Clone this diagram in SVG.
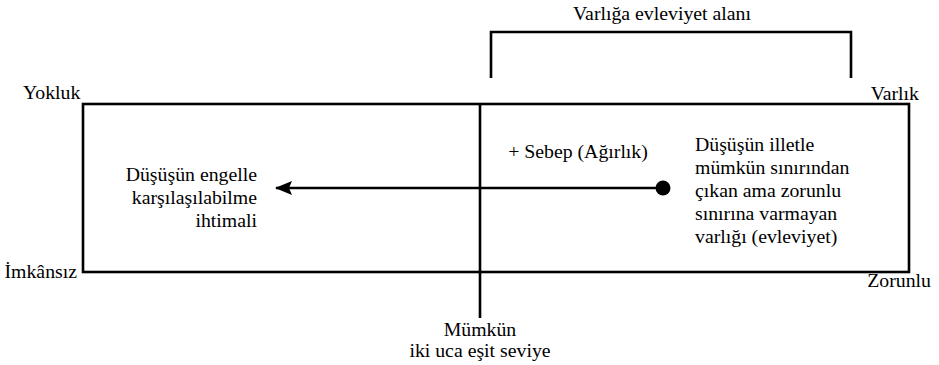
<svg xmlns="http://www.w3.org/2000/svg" width="939" height="365" viewBox="0 0 939 365">
  <style>
    text { font-family: 'Liberation Serif', 'Times New Roman', serif; font-size: 19.8px; fill: #000; }
    .ln { stroke: #000; stroke-width: 2.6; fill: none; }
    .mid { text-anchor: middle; }
    .end { text-anchor: end; }
  </style>
  <defs>
    <marker id="head" markerWidth="17" markerHeight="14" refX="16" refY="7" orient="auto" markerUnits="userSpaceOnUse" viewBox="0 0 17 14">
      <path d="M0,0 L17,7 L0,14 L3,7 Z" fill="#000"/>
    </marker>
  </defs>
  <rect width="939" height="365" fill="#fff"/>

  <!-- main frame with its four corner labels -->
  <g id="frame">
    <rect class="ln" x="83" y="104" width="826" height="168"/>
    <text x="23" y="99">Yokluk</text>
    <text x="919" y="100" class="end">Varlık</text>
    <text x="77" y="278" class="end">İmkânsız</text>
    <text x="931" y="287" class="end">Zorunlu</text>
  </g>

  <!-- bracket over the upper zone -->
  <g id="evleviyet">
    <path class="ln" d="M491,78 V32 H851 V78"/>
    <text x="662" y="20" class="mid">Varlığa evleviyet alanı</text>
  </g>

  <!-- midpoint axis label -->
  <g id="mumkun">
    <text x="480" y="336" class="mid">Mümkün</text>
    <text x="480" y="357" class="mid">iki uca eşit seviye</text>
  </g>

  <g id="left-label">
    <text x="257" y="181" class="end">Düşüşün engelle</text>
    <text x="257" y="204" class="end">karşılaşılabilme</text>
    <text x="257" y="227" class="end">ihtimali</text>
  </g>

  <g id="right-label">
    <text x="695" y="151">Düşüşün illetle</text>
    <text x="695" y="174">mümkün sınırından</text>
    <text x="695" y="197">çıkan ama zorunlu</text>
    <text x="695" y="220">sınırına varmayan</text>
    <text x="695" y="243">varlığı (evleviyet)</text>
  </g>

  <g id="sebep">
    <text x="578" y="158" class="mid">+ Sebep (Ağırlık)</text>
    <circle cx="663" cy="188" r="7.5" fill="#000"/>
  </g>

  <!-- connectors -->
  <g id="connectors">
    <path class="ln" d="M480,104 V318"/>
    <path class="ln" d="M663,188 H276" marker-end="url(#head)"/>
  </g>
</svg>
